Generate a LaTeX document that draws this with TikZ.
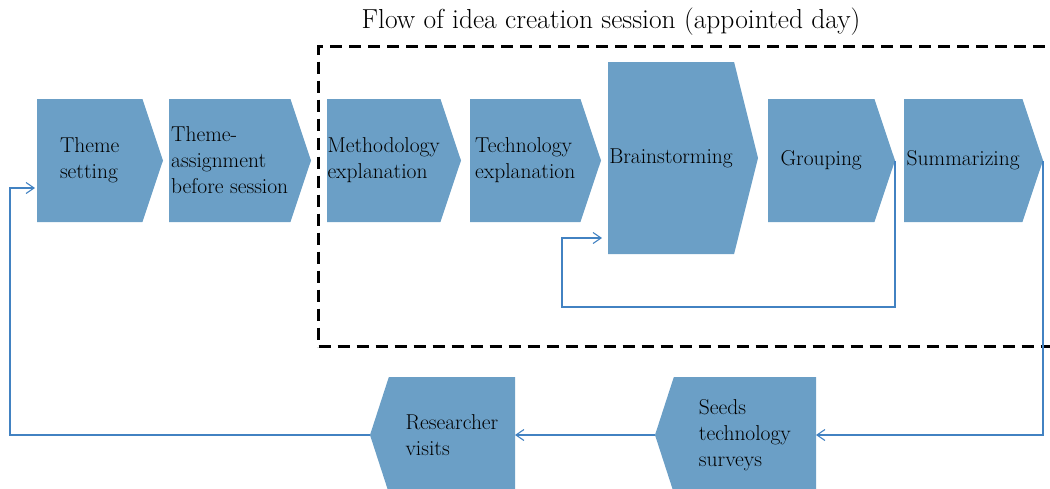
\documentclass[tikz,border=0pt]{standalone}
\usepackage{tikz}
\usetikzlibrary{positioning}
\usetikzlibrary{shapes.symbols}
\usetikzlibrary{arrows.meta}

\definecolor{stepblue}{RGB}{107,159,198}
\definecolor{linkblue}{RGB}{66,130,194}

\tikzset{
  stage/.style={signal, signal to=east, signal pointer angle=143, fill=stepblue, draw=none,
    inner sep=0pt, outer sep=0pt, minimum height=123pt, align=left, anchor=west,
    font=\fontsize{21.5}{26}\selectfont},
  backstage/.style={stage, signal to=west, signal pointer angle=144, anchor=east, minimum height=116pt},
  link/.style={draw=linkblue, line width=1.1pt, -{Straight Barb[length=8pt,width=11pt]}},
  sessionframe/.style={draw=black, line width=3pt, dash pattern=on 12pt off 7pt, inner sep=0pt}
}

\begin{document}
\begin{tikzpicture}[x=1pt, y=-1pt]
    \useasboundingbox (0,0) rectangle (1050,488);

    % Session frame
    \node[sessionframe, minimum width=745pt, minimum height=300pt, anchor=north west] (frame) at (317,45) {};
    \node[font=\fontsize{27.5}{32}\selectfont, anchor=base] (title) at (611,28) {Flow of idea creation session (appointed day)};

    % Upper row
    \node[stage, minimum width=126pt] (theme) at (37,160.5) {Theme\\setting};
    \node[stage, minimum width=142pt] (assign) at (169,160.5) {Theme-\\assignment\\before session};
    \node[stage, minimum width=134pt] (method) at (327,160.5) {Methodology\\explanation};
    \node[stage, minimum width=131pt] (techno) at (470,160.5) {Technology\\explanation};
    \node[stage, minimum width=150pt, minimum height=192pt, signal pointer angle=152] (brain) at (608,158) {Brainstorming};
    \node[stage, minimum width=127pt] (group) at (768,160.5) {Grouping};
    \node[stage, minimum width=139pt] (summ) at (904,160.5) {Summarizing};

    % Lower row
    \node[backstage, minimum width=161pt] (seeds) at (816,435) {Seeds\\technology\\surveys};
    \node[backstage, minimum width=145pt] (visit) at (515,435) {Researcher\\visits};

    % Loop back into brainstorming
    \coordinate (loopturn) at (562,307);
    \coordinate (loopin) at (562,238);
    \draw[link, shorten >=6pt] (group.east) |- (loopturn) -- (loopin) -- (loopin -| brain.west);

    % Outer cycle
    \coordinate (backturn) at (10,188);
    \draw[link] (summ.east) |- (seeds.east);
    \draw[link] (seeds.west) -- (visit.east);
    \draw[link, shorten >=2pt] (visit.west) -| (backturn) -- (backturn -| theme.west);

\end{tikzpicture}
\end{document}
